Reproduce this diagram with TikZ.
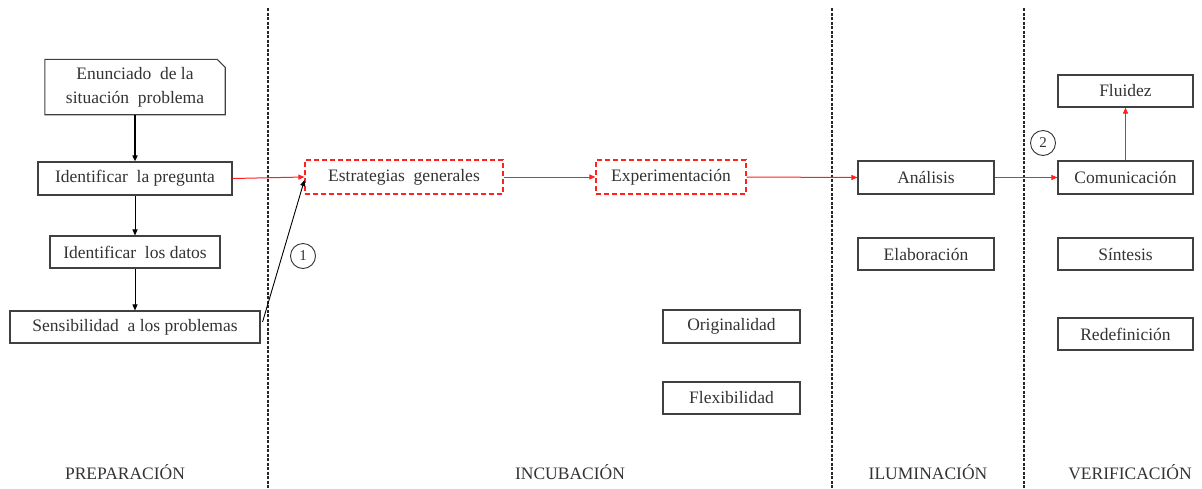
\documentclass[tikz,border=0pt]{standalone}
\usepackage{fontspec}
\newfontfamily\timesfont{Liberation Serif}
\usetikzlibrary{arrows.meta,calc}
\definecolor{boxline}{HTML}{404040}
\definecolor{txt}{HTML}{333333}
\definecolor{redline}{HTML}{FF2020}
\tikzset{
  every node/.style={font=\timesfont\fontsize{17.5}{20}\selectfont},
  box/.style={draw=boxline, line width=1.1pt, text=txt, inner sep=0pt, minimum height=33},
  dbox/.style={box, draw=redline, dash pattern=on 5pt off 3pt},
  phase/.style={text=txt},
  sep/.style={draw=black!85, line width=1.2pt, dash pattern=on 3pt off 1.5pt},
  tip/.style={-{Triangle[length=6pt,width=5pt]}},
  blk/.style={tip, draw=black, line width=0.9pt},
  redarr/.style={tip, draw=redline, line width=1pt},
  num/.style={circle, draw=black!80, line width=0.9pt, minimum size=25, inner sep=0pt, text=txt, font=\timesfont\fontsize{15}{18}\selectfont}
}
\begin{document}
\begin{tikzpicture}[x=1pt, y=-1pt]
\useasboundingbox (0,0) rectangle (1202,488);

% phase separators
\draw[sep] (268,8) -- (268,488);
\draw[sep] (832,8) -- (832,488);
\draw[sep] (1024,8) -- (1024,488);

% preparation column
\node[text=txt, font=\timesfont\fontsize{17.5}{24}\selectfont, align=center, minimum width=180, minimum height=55, inner sep=0pt] (enun) at (135,87) {Enunciado \ de la\\situación \ problema};
\draw[boxline, line width=1.1pt] (enun.south west) -- (enun.north west) -- ($(enun.north east)+(-8,0)$) -- ($(enun.north east)+(0,8)$) -- (enun.south east) -- cycle;
\node[box, minimum width=194] (preg) at (135,178.5) {Identificar \ la pregunta};
\node[box, minimum width=170, minimum height=32] (datos) at (135,252) {Identificar \ los datos};
\node[box, minimum width=250, minimum height=32] (sens) at (135,327) {Sensibilidad \ a los problemas};

% incubation column
\node[dbox, minimum width=198, minimum height=34] (estr) at (404,177) {Estrategias \ generales};
\node[dbox, minimum width=150, minimum height=34] (expe) at (671,177) {Experimentación};
\node[box, minimum width=137] (orig) at (731.5,326.5) {Originalidad};
\node[box, minimum width=137, minimum height=32] (flex) at (731.5,398) {Flexibilidad};

% illumination column
\node[box, minimum width=136] (anal) at (926,177.5) {Análisis};
\node[box, minimum width=136, minimum height=32] (elab) at (926,254) {Elaboración};

% verification column
\node[box, minimum width=135, minimum height=32] (flui) at (1125.5,91) {Fluidez};
\node[box, minimum width=135] (comu) at (1125.5,177.5) {Comunicación};
\node[box, minimum width=135, minimum height=32] (sint) at (1125.5,254) {Síntesis};
\node[box, minimum width=135, minimum height=32] (rede) at (1125.5,334) {Redefinición};

% numbered markers
\node[num] (n1) at (303,256) {1};
\node[num] (n2) at (1043,143) {2};

% connectors
\draw[tip, draw=black, line width=2.2pt] (enun) -- (preg);
\draw[blk] (preg) -- (datos);
\draw[blk] (datos) -- (sens);
\draw[blk] ($(sens.east)+(2,-5)$) -- ($(estr.west)+(0,3)$);
\draw[redarr] (preg.east) -- (estr.west);
\draw[redarr] (estr.east) -- (expe.west);
\draw[redarr] (expe.east) -- (anal.west);
\draw[redarr] (anal.east) -- (comu.west);
\draw[redarr] (comu.north) -- (flui.south);

% phase labels
\node[phase] (l1) at (125,472) {PREPARACIÓN};
\node[phase] (l2) at (570,472) {INCUBACIÓN};
\node[phase] (l3) at (928,472) {ILUMINACIÓN};
\node[phase] (l4) at (1130,472) {VERIFICACIÓN};
\end{tikzpicture}
\end{document}
